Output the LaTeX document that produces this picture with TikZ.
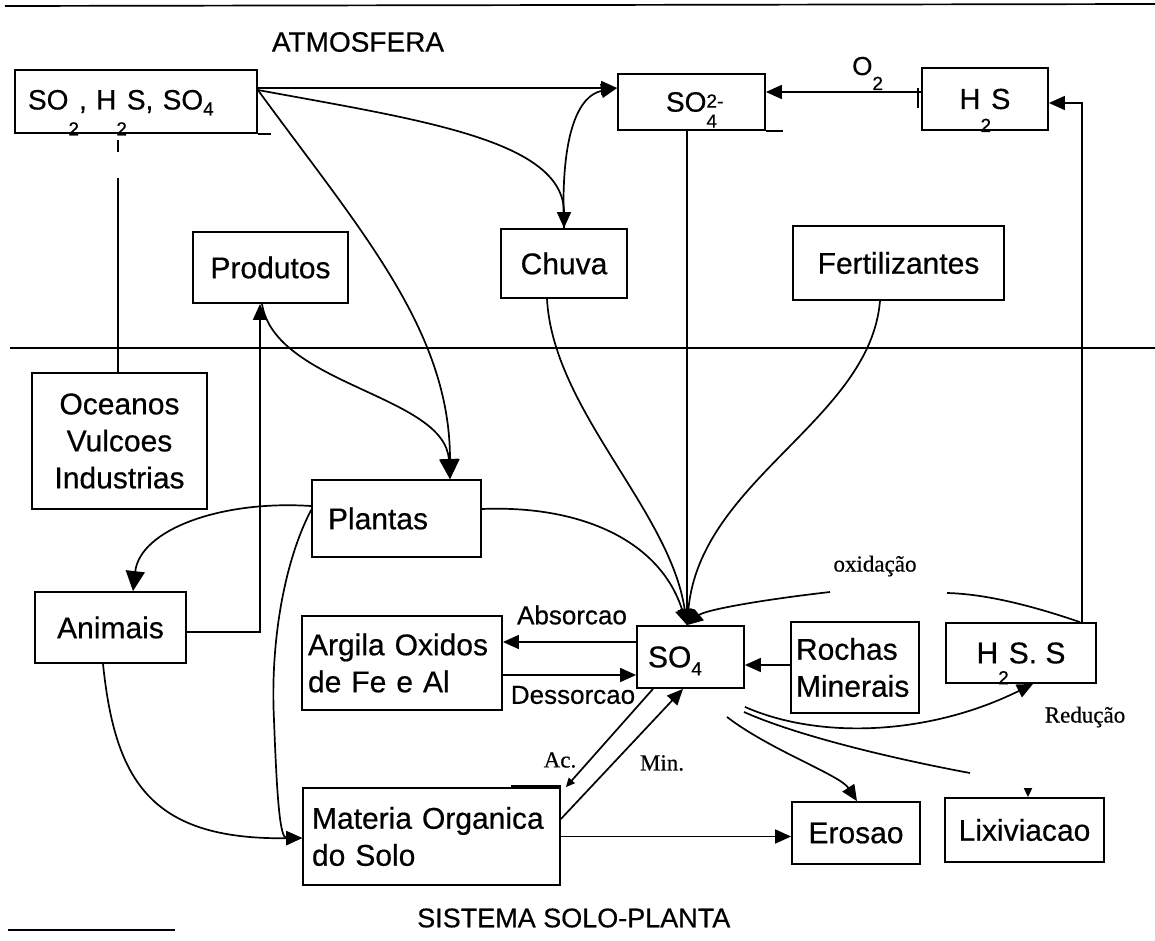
\documentclass[tikz,border=0pt]{standalone}
\usepackage{fontspec}
\setmainfont{Liberation Sans}[FakeBold=0.5]
\newfontfamily\tms{Liberation Serif}[FakeBold=0.5]
\usetikzlibrary{arrows.meta,calc}
\newcommand{\lsub}[2]{\raisebox{#1}[0pt][0pt]{\fontsize{19}{19}\selectfont #2}}
\begin{document}
\begin{tikzpicture}[x=1pt,y=-1pt,
  box/.style={draw, line width=1.8pt, inner sep=0pt, font=\fontsize{30}{37}\selectfont},
  arr/.style={line width=1.7pt, -{Triangle[length=16pt,width=14pt]}},
  big/.style={-{Triangle[length=20pt,width=19pt]}},
  smallarr/.style={-{Triangle[length=9pt,width=8pt]}},
  ln/.style={line width=1.7pt},
  lab/.style={font=\fontsize{26}{30}\selectfont, inner sep=0pt},
  slab/.style={font=\tms\fontsize{23}{26}\selectfont, inner sep=0pt}]
\fill[white] (0,0) rectangle (1155,941);
\useasboundingbox (0,0) rectangle (1155,941);

% region lines
\draw[ln] (5,6) -- (1155,4);
\draw[ln] (10,348) -- (1155,348);
\draw[ln] (8,930) -- (175,930);

% boxes
\node[box, minimum height=63pt, inner xsep=13pt, text width=216pt, align=left, font=\fontsize{28}{30}\selectfont] (so2) at (136,101.5)
  {SO\lsub{-26pt}{2}, H\lsub{-26pt}{2}S, SO\lsub{-6pt}{4}};
\node[box, minimum width=147pt, minimum height=56pt, font=\fontsize{28}{30}\selectfont] (so4t) at (691.5,102)
  {SO\rlap{\lsub{4pt}{2-}}\lsub{-16pt}{4}\hspace{14pt}};
\node[box, minimum width=126pt, minimum height=62pt, font=\fontsize{29}{30}\selectfont] (h2st) at (985,99)
  {H\lsub{-23pt}{2}S};
\node[box, minimum width=155pt, minimum height=71pt] (prod) at (270.5,267.5) {Produtos};
\node[box, minimum width=126pt, minimum height=69pt] (chuva) at (564,263.5) {Chuva};
\node[box, minimum width=211pt, minimum height=74pt] (fert) at (898.5,263) {Fertilizantes};
\node[box, minimum width=175pt, minimum height=136pt, align=center] (ocean) at (119.5,441)
  {Oceanos\\Vulcoes\\Industrias};
\node[box, minimum height=77pt, inner xsep=16pt, text width=137pt, align=left] (plant) at (396.5,518.5) {Plantas};
\node[box, minimum width=151pt, minimum height=71pt] (anim) at (110.5,627.5) {Animais};
\node[box, minimum height=94pt, inner xsep=6pt, text width=188pt, align=left] (arg) at (402,663)
  {\mbox{Argila Oxidos}\\\mbox{de Fe e Al}};
\node[box, minimum height=62pt, inner xsep=11pt, text width=85pt, align=left] (so4) at (690.5,657)
  {SO\lsub{-8pt}{4}};
\node[box, minimum height=91pt, inner xsep=5pt, text width=118pt, align=left] (roch) at (855,667.5)
  {\mbox{Rochas}\\\mbox{Minerais}};
\node[box, minimum width=150pt, minimum height=60pt] (h2ss) at (1021,653) {H\lsub{-21pt}{2}S. S};
\node[box, minimum height=97pt, inner xsep=9pt, text width=239pt, align=left] (mat) at (431.5,836.5)
  {\mbox{Materia Organica}\\do Solo};
\node[box, minimum width=128pt, minimum height=62pt] (eros) at (856,833) {Erosao};
\node[box, minimum width=159pt, minimum height=64pt] (lix) at (1024.5,830) {Lixiviacao};

% box artefacts
\draw[ln] (so2.south east) -- ++(13,0);
\draw[ln] (so4t.south east) -- ++(17,0);
\draw[line width=2.6pt] ([xshift=-3pt,yshift=11pt]h2st.west) -- ([xshift=-3pt,yshift=-9pt]h2st.west);
\draw[line width=3.5pt] ([xshift=-50pt]mat.north east) -- (mat.north east);

% labels
\node[lab, font=\fontsize{28}{30}\selectfont] (atm) at (358,42) {ATMOSFERA};
\node[lab, anchor=west, font=\fontsize{27}{30}\selectfont] (sis) at (417,918) {SISTEMA SOLO-PLANTA};
\node[lab, anchor=base west] (o2) at (852,75) {O\lsub{-15pt}{2}};
\node[lab] (abs) at (572,615) {Absorcao};
\node[lab] (des) at (573,695) {Dessorcao};
\node[slab] (ac) at (560,760) {Ac.};
\node[slab] (min) at (662,763) {Min.};
\node[slab] (oxi) at (875,566) {oxidação};
\node[slab] (red) at (1085,717) {Redução};

% atmosphere connectors
\draw[arr] ([yshift=13.5pt]so2.east) -- ([yshift=13.5pt]so2.east -| so4t.west);
\draw[arr] ([yshift=7pt]h2st.west) -- ([yshift=7pt]h2st.west -| so4t.east);
\draw[arr] ([xshift=61pt]h2ss.north) |- ([yshift=-4pt]h2st.east);
\draw[arr] ([xshift=-4.5pt]so4t.south) -- ([xshift=-3.5pt]so4.north);
\draw[arr] ([yshift=11.5pt]so2.east) .. controls (420,120) and (564,140) .. (chuva.north);
\draw[arr] (chuva.north) .. controls (560,130) and (580,95) .. ([yshift=14pt]so4t.west);
\draw[arr, big] ([yshift=11.5pt]so2.east) .. controls (360,230) and (450,330) .. ([xshift=53.5pt]plant.north);
\draw[arr, big] ([xshift=-8.5pt]prod.south) .. controls (275,385) and (445,395) .. ([xshift=53.5pt]plant.north);
\draw[arr] ([yshift=-4.5pt]anim.east) -| ([xshift=-10.5pt]prod.south);

% Oceanos link
\coordinate (oc1) at (118,140);
\coordinate (oc2) at (118,152);
\coordinate (oc3) at (118,178);
\draw[ln] (oc1) -- (oc2);
\draw[ln] (oc3) -- (oc3 |- ocean.north);

% plants / animals
\draw[arr, big] ([yshift=12.5pt]plant.west) .. controls (220,500) and (140,530) .. ([xshift=22.5pt]anim.north);
\draw[arr] ([yshift=8.5pt]plant.west) .. controls (285,560) and (270,640) .. (274,720)
  .. controls (277,800) and (280,838) .. ([yshift=-1.5pt]mat.west);
\draw[arr] ([xshift=-7.5pt]anim.south) .. controls (115,780) and (150,840) .. ([yshift=-1.5pt]mat.west);

% inputs to SO4
\draw[arr] ([xshift=-17pt]chuva.south) .. controls (553,410) and (670,510) .. ([xshift=-3.5pt]so4.north);
\draw[arr] ([xshift=-18.5pt]fert.south) .. controls (870,420) and (700,480) .. ([xshift=-3.5pt]so4.north);
\draw[arr] ([yshift=9.5pt]plant.east) .. controls (580,505) and (660,540) .. ([xshift=-3.5pt]so4.north);
\coordinate (oxL) at (830,592);
\draw[arr] (oxL) .. controls (760,600) and (705,610) .. ([xshift=-3.5pt]so4.north);
\coordinate (oxR) at (947,593);
\draw[ln] ([xshift=59pt]h2ss.north) .. controls (1030,605) and (985,594) .. (oxR);
\draw[arr] ([yshift=2.5pt]roch.west) -- ([yshift=2.5pt]roch.west -| so4.east);

% exchange with Argila
\draw[arr] ([yshift=15pt]so4.west) -- ([yshift=15pt]so4.west -| arg.east);
\draw[arr] ([yshift=-12pt]arg.east) -- ([yshift=-12pt]arg.east -| so4.west);

% organic matter
\draw[arr] ([yshift=17.5pt]mat.east) -- ([xshift=-7.5pt]so4.south);
\draw[arr, smallarr] ([xshift=-37.5pt]so4.south) -- ([xshift=5pt]mat.north east);
\draw[arr] (mat.east) -- (mat.east -| eros.west);

% outputs of SO4
\coordinate (er0) at (727,717);
\draw[arr] (er0) .. controls (770,750) and (840,775) .. ([xshift=1pt]eros.north);
\coordinate (lx0) at (744,712);
\coordinate (lx1) at (970,773);
\draw[ln] (lx0) .. controls (800,737) and (900,760) .. (lx1);
\draw[arr, smallarr] ([xshift=3.5pt,yshift=9pt]lix.north) -- ([xshift=3.5pt]lix.north);
\draw[arr] ([yshift=-18pt]so4.south east) .. controls (820,740) and (930,735) .. ([xshift=12pt]h2ss.south);
\end{tikzpicture}
\end{document}
